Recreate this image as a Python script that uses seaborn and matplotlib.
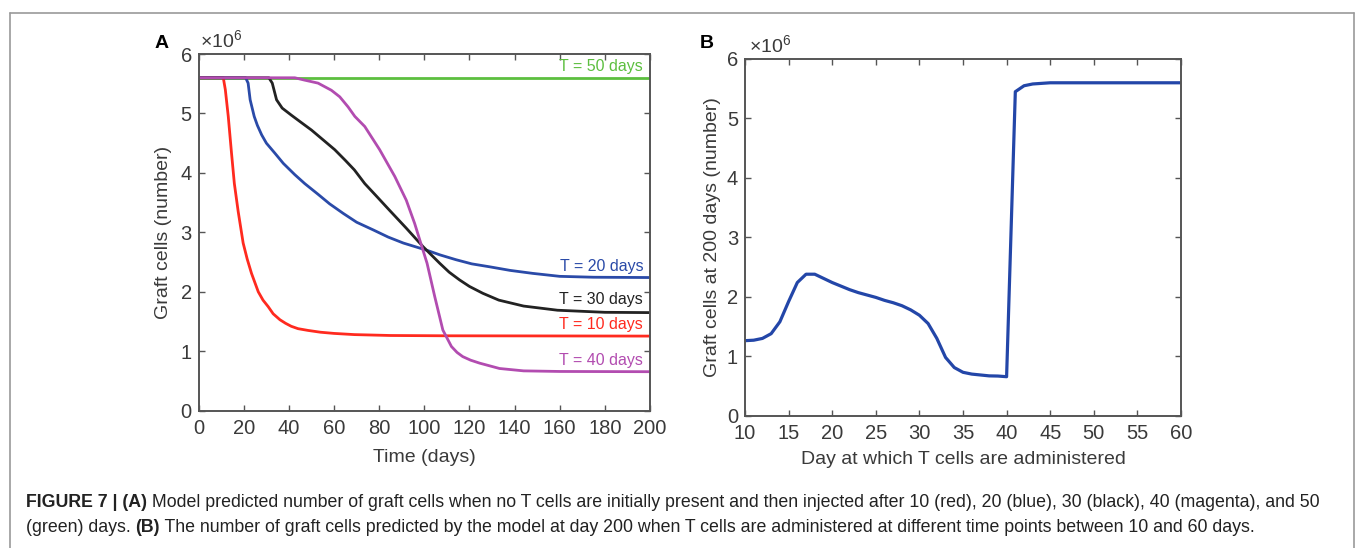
import matplotlib
matplotlib.use("Agg")
import matplotlib.pyplot as plt
import seaborn as sns
import pandas as pd
from matplotlib.lines import Line2D

# ---------------- data (graft cells in units of 10^6) ----------------
t10 = [0, 10.9, 11.8, 13.1, 14.5, 15.8, 17.5, 19.7, 21.5, 23.4, 26.4, 28.5, 30.8, 33, 36, 38.5, 41, 44, 48.5,
       54, 60, 69, 85, 110, 200]
g10 = [5.6, 5.6, 5.4, 4.95, 4.35, 3.82, 3.35, 2.82, 2.55, 2.31, 2.0, 1.86, 1.75, 1.63, 1.53, 1.47, 1.42, 1.38, 1.35,
       1.32, 1.30, 1.28, 1.265, 1.26, 1.255]

t20 = [0, 20.8, 21.9, 22.8, 24.6, 26.0, 27.9, 30, 33.8, 37.5, 42.6, 47, 52.9, 58, 64, 70, 77.4, 84, 90.7,
       101, 107, 114, 121, 129, 138, 148, 160, 175, 200]
g20 = [5.6, 5.6, 5.51, 5.23, 4.95, 4.8, 4.64, 4.5, 4.33, 4.16, 3.97, 3.82, 3.64, 3.48, 3.32, 3.17, 3.04, 2.92, 2.82,
       2.70, 2.62, 2.54, 2.47, 2.42, 2.36, 2.31, 2.26, 2.245, 2.24]

t30 = [0, 31.1, 32.6, 34.5, 37, 41.1, 45, 50, 55, 60.3, 65, 69, 73.6, 79, 84.6, 92, 99.4, 106.8, 111, 115.6, 120,
       125.9, 133, 144, 159, 180, 200]
g30 = [5.6, 5.6, 5.51, 5.23, 5.09, 4.97, 4.86, 4.72, 4.56, 4.39, 4.21, 4.05, 3.82, 3.6, 3.37, 3.07, 2.76, 2.48,
       2.33, 2.20, 2.09, 1.975, 1.86, 1.76, 1.69, 1.655, 1.65]

t40 = [0, 42.6, 47, 52.9, 58.8, 62.5, 66.2, 69.2, 73.6, 80.2, 86.9, 92, 95.7, 98.4, 101.2, 104.6, 108.2, 112,
       114.5, 117, 120.5, 124.5, 133.3, 144, 160, 200]
g40 = [5.6, 5.6, 5.56, 5.51, 5.39, 5.28, 5.11, 4.95, 4.78, 4.39, 3.94, 3.54, 3.15, 2.82, 2.48, 1.92, 1.357, 1.08,
       0.98, 0.91, 0.85, 0.80, 0.71, 0.67, 0.66, 0.656]

t50 = [0, 200]
g50 = [5.6, 5.6]

series_names = ["T = 50 days", "T = 10 days", "T = 20 days", "T = 30 days", "T = 40 days"]
series_colors = ["#5cbf3f", "#ff2a1f", "#2a4aa8", "#222222", "#b24cb0"]
label_y = [5.79, 1.45, 2.42, 1.87, 0.85]

day_admin = list(range(10, 61))
cells200 = [1.262, 1.27, 1.30, 1.38, 1.58, 1.92, 2.24, 2.38, 2.38, 2.31, 2.24, 2.18, 2.12, 2.07, 2.03, 1.99,
            1.94, 1.90, 1.85, 1.78, 1.69, 1.55, 1.30, 0.98, 0.81, 0.73, 0.70, 0.685, 0.67, 0.667, 0.656,
            5.45, 5.55, 5.58, 5.59] + [5.60] * 16

# ---------------- style ----------------
sns.set_theme(style="white")
plt.rcParams["font.family"] = ["Liberation Sans", "DejaVu Sans"]
plt.rcParams["mathtext.fontset"] = "custom"
plt.rcParams["mathtext.rm"] = "Liberation Sans"

W, H = 1355, 548
fig = plt.figure(figsize=(W / 100, H / 100), dpi=100)
fig.patch.set_facecolor("white")

SPINE = "#555555"
TXT = "#3a3a3a"


def style_axes(ax):
    for s in ax.spines.values():
        s.set_visible(True)
        s.set_color(SPINE)
        s.set_linewidth(1.4)
    ax.tick_params(direction="in", top=True, right=True, bottom=True, left=True, length=4, width=1.0,
                   color=SPINE, labelcolor=TXT, labelsize=14.5)
    ax.tick_params(axis="x", pad=6)
    ax.tick_params(axis="y", pad=5)
    ax.set_facecolor("white")


# ---------------- panel A ----------------
axA = fig.add_axes([198.7 / W, 1 - 410.7 / H, (650 - 198.7) / W, (410.7 - 54) / H])
rows = []
for name, tt, gg in zip(series_names, [t50, t10, t20, t30, t40], [g50, g10, g20, g30, g40]):
    for a, b in zip(tt, gg):
        rows.append((name, a, b))
dfA = pd.DataFrame(rows, columns=["series", "time", "cells"])
sns.lineplot(data=dfA, x="time", y="cells", hue="series", hue_order=series_names,
             palette=series_colors, estimator=None, linewidth=2.0, legend=False, ax=axA)
axA.set_xlim(0, 200)
axA.set_ylim(0, 6)
axA.set_xticks(range(0, 201, 20))
axA.set_yticks(range(0, 7))
style_axes(axA)
axA.set_xlabel("Time (days)", fontsize=14, color=TXT, labelpad=8)
axA.set_ylabel("Graft cells (number)", fontsize=14, color=TXT, labelpad=6)
for name, col, ly in zip(series_names, series_colors, label_y):
    axA.text(197, ly, name, color=col, fontsize=11.5, ha="right", va="center")
axA.text(0.003, 1.005, "×10$^{\\mathregular{6}}$", transform=axA.transAxes, fontsize=14,
         color=TXT, ha="left", va="bottom")
fig.text(155 / W, 1 - 48 / H, "A", fontsize=14, fontweight="bold", color="black",
         ha="left", va="baseline")

# ---------------- panel B ----------------
axB = fig.add_axes([745 / W, 1 - 415.7 / H, (1181 - 745) / W, (415.7 - 59) / H])
dfB = pd.DataFrame({"day": day_admin, "cells": cells200})
sns.lineplot(data=dfB, x="day", y="cells", color="#2346a8", linewidth=2.3, estimator=None, ax=axB)
axB.set_xlim(10, 60)
axB.set_ylim(0, 6)
axB.set_xticks(range(10, 61, 5))
axB.set_yticks(range(0, 7))
style_axes(axB)
axB.set_xlabel("Day at which T cells are administered", fontsize=14, color=TXT, labelpad=6)
axB.set_ylabel("Graft cells at 200 days (number)", fontsize=14, color=TXT, labelpad=4)
axB.text(0.01, 1.005, "×10$^{\\mathregular{6}}$", transform=axB.transAxes, fontsize=14,
         color=TXT, ha="left", va="bottom")
fig.text(700 / W, 1 - 48 / H, "B", fontsize=14, fontweight="bold", color="black",
         ha="left", va="baseline")

# ---------------- frame ----------------
fc = "#9a9a9a"
fig.add_artist(Line2D([10 / W, 1354 / W], [1 - 13 / H, 1 - 13 / H], color=fc, lw=1.2, transform=fig.transFigure))
fig.add_artist(Line2D([10 / W, 10 / W], [0, 1 - 13 / H], color=fc, lw=1.2, transform=fig.transFigure))
fig.add_artist(Line2D([1354 / W, 1354 / W], [0, 1 - 13 / H], color=fc, lw=1.2, transform=fig.transFigure))

# ---------------- caption ----------------
cap_lines = [
    [("FIGURE 7 | (A)", "bold"),
     (" Model predicted number of graft cells when no T cells are initially present and then injected after "
      "10 (red), 20 (blue), 30 (black), 40 (magenta), and 50", "normal")],
    [("(green) days. ", "normal"), ("(B)", "bold"),
     (" The number of graft cells predicted by the model at day 200 when T cells are administered at "
      "different time points between 10 and 60 days.", "normal")],
]
cap_base = [507, 532]
fig.canvas.draw()
rend = fig.canvas.get_renderer()
for pieces, yb in zip(cap_lines, cap_base):
    x = 26
    for txt, wt in pieces:
        t = fig.text(x / W, 1 - yb / H, txt, fontsize=12.8, fontweight=wt, color="#222222",
                     ha="left", va="baseline")
        bb = t.get_window_extent(rend)
        x = bb.x1

fig.savefig("out.png", dpi=100, facecolor="white")
